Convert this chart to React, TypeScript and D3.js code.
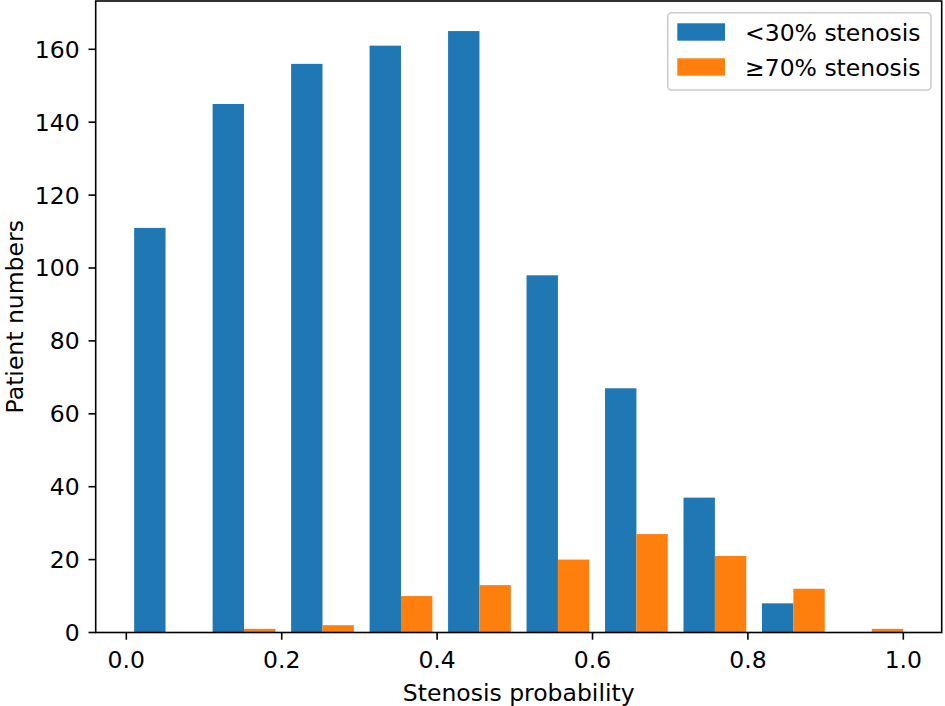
import React from 'react';
import * as d3 from 'd3';

// Histogram counts per bin (10 bins from 0 to ~1.01)
const binLow = 0.0;
const binHigh = 1.01;
const lowStenosis = [111, 145, 156, 161, 165, 98, 67, 37, 8, 0];
const highStenosis = [0, 1, 2, 10, 13, 20, 27, 21, 12, 1];
const seriesNames = ['<30% stenosis', '≥70% stenosis'];
const seriesColors = ['#1f77b4', '#ff7f0e'];
const xTicks = [0.0, 0.2, 0.4, 0.6, 0.8, 1.0];
const yTicks = [0, 20, 40, 60, 80, 100, 120, 140, 160];

const W = 945;
const H = 706;
const margin = { top: 1, right: 3.3, bottom: 73.5, left: 95.7 };
const font = 'DejaVu Sans, sans-serif';
const fs = 23.5;

export default function App() {
  const binW = (binHigh - binLow) / lowStenosis.length;
  const edges = d3.range(lowStenosis.length).map(i => binLow + i * binW);

  // matplotlib-style 5% margins around the bar extents
  const dMin = edges[0] + 0.1 * binW;
  const dMax = edges[edges.length - 1] + 0.9 * binW;
  const pad = (dMax - dMin) * 0.05;
  const yMax = d3.max([...lowStenosis, ...highStenosis]) as number;

  const x = d3.scaleLinear()
    .domain([dMin - pad, dMax + pad])
    .range([margin.left, W - margin.right]);
  const y = d3.scaleLinear()
    .domain([0, yMax * 1.05])
    .range([H - margin.bottom, margin.top]);

  const series = [lowStenosis, highStenosis];
  const y0 = y(0);
  const tickLen = 7.2;

  return (
    <svg width={W} height={H} style={{ position: 'absolute', left: 0, top: 0, background: '#fff' }}
      fontFamily={font}>
      <rect x={0} y={0} width={W} height={H} fill="#fff" />
      {series.map((vals, s) =>
        vals.map((v, i) => {
          const x0 = edges[i] + binW * (0.1 + 0.4 * s);
          const x1 = x0 + binW * 0.4;
          return (
            <rect key={`${s}-${i}`} x={x(x0)} y={y(v)} width={x(x1) - x(x0)}
              height={y0 - y(v)} fill={seriesColors[s]} />
          );
        })
      )}
      {/* frame */}
      <rect x={margin.left} y={margin.top} width={W - margin.right - margin.left}
        height={y0 - margin.top} fill="none" stroke="#000" strokeWidth={1.6} />
      {xTicks.map(t => (
        <g key={`x${t}`}>
          <line x1={x(t)} x2={x(t)} y1={y0} y2={y0 + tickLen} stroke="#000" strokeWidth={1.6} />
          <text x={x(t)} y={y0 + 35.5} fontSize={fs} textAnchor="middle" fill="#000">{t.toFixed(1)}</text>
        </g>
      ))}
      {yTicks.map(t => (
        <g key={`y${t}`}>
          <line x1={margin.left - tickLen} x2={margin.left} y1={y(t)} y2={y(t)} stroke="#000" strokeWidth={1.6} />
          <text x={margin.left - 16} y={y(t)} dy="0.36em" fontSize={fs} textAnchor="end" fill="#000">{t}</text>
        </g>
      ))}
      <text x={(margin.left + W - margin.right) / 2} y={y0 + 68} fontSize={fs} textAnchor="middle" fill="#000">
        Stenosis probability
      </text>
      <text transform={`translate(22.5,${(margin.top + y0) / 2}) rotate(-90)`} fontSize={fs}
        textAnchor="middle" fill="#000">Patient numbers</text>
      {/* legend */}
      <g>
        <rect x={667.7} y={12.7} width={263.3} height={77.3} rx={4} fill="#fff" fillOpacity={0.8}
          stroke="#cccccc" strokeWidth={1.6} />
        {seriesNames.map((name, s) => (
          <g key={name} transform={`translate(677.3,${23.3 + s * 35})`}>
            <rect x={0} y={0} width={47.7} height={17.4} fill={seriesColors[s]} />
            <text x={67.7} y={17.4} fontSize={fs} fill="#000">{name}</text>
          </g>
        ))}
      </g>
    </svg>
  );
}
